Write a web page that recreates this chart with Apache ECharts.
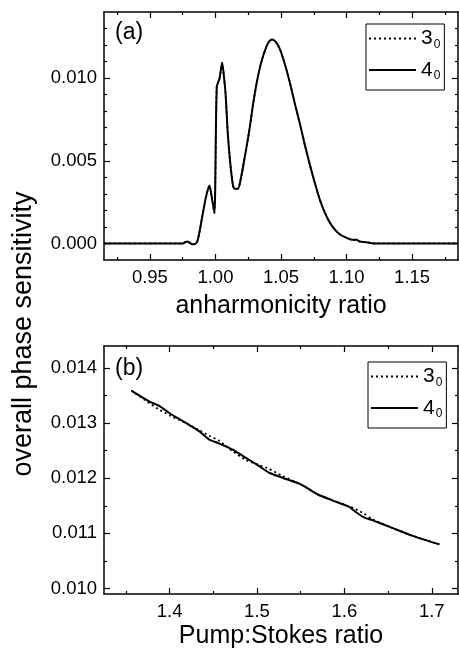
<!DOCTYPE html>
<html>
<head>
<meta charset="utf-8">
<script src="https://cdn.jsdelivr.net/npm/echarts@6/dist/echarts.min.js"></script>
<style>html,body{margin:0;padding:0;background:#fff}#c{width:459px;height:650px}</style>
</head>
<body>
<div id="c"></div>
<script>
// ---- Panel (a): overall phase sensitivity vs anharmonicity ratio ----
const xA = [0.915,0.975,0.977,0.9785,0.980,0.982,0.984,0.986,0.9877,0.990,0.9929,0.9954,0.9972,0.9992,1.0010,1.0031,1.0051,1.0061,1.0077,1.0094,1.0113,1.0133,1.0146,1.0171,1.0197,1.0222,1.0255,1.0286,1.0316,1.0350,1.0388,1.0413,1.0434,1.0460,1.0490,1.0528,1.0566,1.0605,1.0643,1.0682,1.0720,1.0758,1.0796,1.0835,1.0873,1.0911,1.0950,1.0988,1.1013,1.1040,1.1077,1.1100,1.1154,1.1204,1.185];
const sens4A = [0,0,0.00008,0.00012,0.00006,-0.00004,-0.00004,0.0001,0.00064,0.00165,0.00285,0.0035,0.0028,0.00185,0.00948,0.00998,0.01092,0.01038,0.00908,0.00667,0.00486,0.00355,0.00331,0.00331,0.00406,0.00516,0.00667,0.00837,0.00978,0.01098,0.01189,0.01225,0.01233,0.01219,0.01179,0.01089,0.00978,0.00848,0.00727,0.00596,0.00476,0.00366,0.00265,0.00185,0.00125,0.00084,0.00054,0.00038,0.0003,0.00022,0.00022,0.00012,0.00008,0,0];
const sens3A = [0,0,0.00008,0.00012,0.00006,-0.00004,-0.00004,0.0001,0.00064,0.00165,0.00285,0.0035,0.0028,0.00185,0.00948,0.00998,0.01092,0.01038,0.00908,0.00667,0.00486,0.00355,0.00331,0.00331,0.00406,0.00516,0.00667,0.00837,0.00978,0.01098,0.01189,0.01225,0.01233,0.01219,0.01179,0.01089,0.00978,0.00848,0.00727,0.00596,0.00476,0.00366,0.00265,0.00185,0.00125,0.00084,0.00054,0.00038,0.0003,0.00022,0.00022,0.00012,0.00008,0,0];
const xTicksA = [0.95,1.00,1.05,1.10,1.15];
const xMinorA = [0.925,0.975,1.025,1.075,1.125,1.175];
const yTicksA = [0.000,0.005,0.010];
const yMinorA = [0.001,0.002,0.003,0.004,0.006,0.007,0.008,0.009,0.011,0.012,0.013];

// ---- Panel (b): overall phase sensitivity vs Pump:Stokes ratio ----
const xB4 = [1.3563,1.3772,1.3886,1.400,1.419,1.4342,1.4456,1.457,1.4722,1.4875,1.5026,1.514,1.5292,1.5502,1.5691,1.5862,1.6053,1.6129,1.6224,1.6318,1.6547,1.6774,1.7087];
const sens4B = [0.01359,0.01339,0.01331,0.01318,0.0130,0.01285,0.0127,0.01263,0.01252,0.01237,0.01222,0.0121,0.01201,0.01189,0.01171,0.0116,0.01148,0.01139,0.01129,0.01124,0.0111,0.01096,0.0108];
const xB3 = [1.3563,1.3772,1.3886,1.400,1.419,1.4342,1.4456,1.457,1.4722,1.4875,1.5026,1.514,1.5292,1.5502,1.5691,1.5862,1.6053,1.6129,1.6224,1.6318,1.6547,1.6774,1.7087];
const sens3B = [0.01359,0.01336,0.01324,0.01314,0.0130,0.01287,0.01277,0.01268,0.01249,0.01233,0.01224,0.01217,0.01204,0.01189,0.01171,0.0116,0.01149,0.01144,0.01136,0.01126,0.0111,0.01096,0.0108];
const xTicksB = [1.4,1.5,1.6,1.7];
const xMinorB = [1.35,1.45,1.55,1.65];
const yTicksB = [0.010,0.011,0.012,0.013,0.014];
const yMinorB = [0.0105,0.0115,0.0125,0.0135];

const FONT = '"Liberation Sans", Arial, sans-serif';
const pairs = (xs, ys) => xs.map((x, i) => [x, ys[i]]);

function axis(grid, min, max, pos, ticks, len, opts) {
  opts = opts || {};
  const a = {
    type: 'value', gridIndex: grid, min: min, max: max, position: pos, scale: true,
    splitLine: { show: false },
    axisLine: { show: !!opts.line, onZero: false, lineStyle: { color: '#000', width: 1.5 } },
    axisTick: { show: true, inside: true, length: len, customValues: ticks, lineStyle: { color: '#000', width: 1.2 } },
    axisLabel: { show: false }
  };
  if (opts.labels) {
    a.axisLabel = {
      show: true, customValues: ticks, color: '#000', fontFamily: FONT, fontSize: 18.5,
      margin: opts.margin, formatter: v => v.toFixed(opts.dec)
    };
  }
  if (opts.name) {
    a.name = opts.name; a.nameLocation = 'middle'; a.nameGap = opts.nameGap;
    a.nameTextStyle = { color: '#000', fontFamily: FONT, fontSize: 25 };
  }
  return a;
}

const xAxes = [
  axis(0, 0.915, 1.185, 'bottom', xTicksA, 6, { line: true, labels: true, dec: 2, margin: 8, name: 'anharmonicity ratio', nameGap: 34 }),
  axis(0, 0.915, 1.185, 'bottom', xMinorA, 3),
  axis(0, 0.915, 1.185, 'top', xTicksA, 6, { line: true }),
  axis(0, 0.915, 1.185, 'top', xMinorA, 3),
  axis(1, 1.325, 1.73, 'bottom', xTicksB, 6, { line: true, labels: true, dec: 1, margin: 8, name: 'Pump:Stokes ratio', nameGap: 30 }),
  axis(1, 1.325, 1.73, 'bottom', xMinorB, 3),
  axis(1, 1.325, 1.73, 'top', xTicksB, 6, { line: true }),
  axis(1, 1.325, 1.73, 'top', xMinorB, 3)
];
const yAxes = [
  axis(0, -0.001, 0.014, 'left', yTicksA, 6, { line: true, labels: true, dec: 3, margin: 7 }),
  axis(0, -0.001, 0.014, 'left', yMinorA, 3),
  axis(0, -0.001, 0.014, 'right', yTicksA, 6, { line: true }),
  axis(0, -0.001, 0.014, 'right', yMinorA, 3),
  axis(1, 0.0099, 0.0144, 'left', yTicksB, 6, { line: true, labels: true, dec: 3, margin: 7 }),
  axis(1, 0.0099, 0.0144, 'left', yMinorB, 3),
  axis(1, 0.0099, 0.0144, 'right', yTicksB, 6, { line: true }),
  axis(1, 0.0099, 0.0144, 'right', yMinorB, 3)
];

function legendAt(left, top) {
  return {
    orient: 'vertical', left: left, top: top,
    data: ['3_0', '4_0'],
    itemWidth: 47, itemHeight: 22, itemGap: 9,
    padding: [4, 4, 8, 2],
    borderColor: '#000', borderWidth: 1, backgroundColor: '#fff',
    selectedMode: false,
    itemStyle: { opacity: 0, borderWidth: 0 },
    lineStyle: { color: '#000', opacity: 1 },
    formatter: n => { const p = n.split('_'); return '{b|' + p[0] + '}{s|' + p[1] + '}'; },
    textStyle: {
      color: '#000', fontFamily: FONT, fontSize: 20,
      rich: {
        b: { fontFamily: FONT, fontSize: 21, color: '#000', lineHeight: 22 },
        s: { fontFamily: FONT, fontSize: 12, color: '#000', padding: [12, 0, 0, 1] }
      }
    }
  };
}

const solid = { color: '#000', width: 2, type: 'solid' };
const dotted = { color: '#000', width: 1.8, type: [2, 3] };

const option = {
  animation: false,
  backgroundColor: '#fff',
  grid: [
    { left: 104, top: 12, width: 354, height: 248 },
    { left: 104, top: 346, width: 354, height: 249 }
  ],
  xAxis: xAxes,
  yAxis: yAxes,
  legend: [legendAt(366, 24), legendAt(368, 362)],
  series: [
    { name: '3_0', type: 'line', xAxisIndex: 0, yAxisIndex: 0, data: pairs(xA, sens3A), symbol: 'none', smooth: 0.25, lineStyle: dotted, itemStyle: { color: '#000' } },
    { name: '4_0', type: 'line', xAxisIndex: 0, yAxisIndex: 0, data: pairs(xA, sens4A), symbol: 'none', smooth: 0.25, lineStyle: solid, itemStyle: { color: '#000' } },
    { name: '3_0', type: 'line', xAxisIndex: 4, yAxisIndex: 4, data: pairs(xB3, sens3B), symbol: 'none', smooth: 0.2, lineStyle: dotted, itemStyle: { color: '#000' } },
    { name: '4_0', type: 'line', xAxisIndex: 4, yAxisIndex: 4, data: pairs(xB4, sens4B), symbol: 'none', smooth: 0.2, lineStyle: solid, itemStyle: { color: '#000' } }
  ],
  graphic: [
    { type: 'text', x: 24, y: 334, rotation: Math.PI / 2,
      style: { text: 'overall phase sensitivity', fontFamily: FONT, fontSize: 27, fill: '#000', align: 'center', verticalAlign: 'middle' } },
    { type: 'text', left: 115, top: 21,
      style: { text: '(a)', fontFamily: FONT, fontSize: 23, fill: '#000' } },
    { type: 'text', left: 115, top: 357,
      style: { text: '(b)', fontFamily: FONT, fontSize: 23, fill: '#000' } }
  ]
};

const chart = echarts.init(document.getElementById('c'), null, { renderer: 'canvas' });
chart.setOption(option);
</script>
</body>
</html>
